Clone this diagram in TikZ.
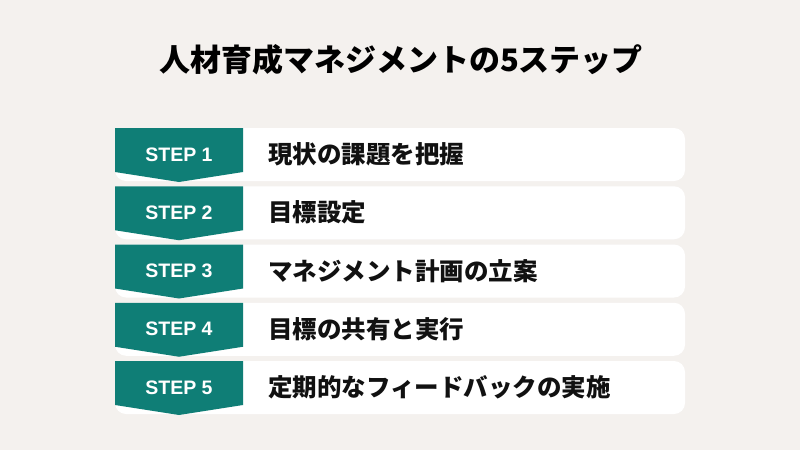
\documentclass[tikz,border=0pt]{standalone}
\usepackage{fontspec}
\setmainfont{Liberation Sans}
\newfontfamily\jp{Noto Sans CJK JP}
\definecolor{bgc}{HTML}{F4F1EE}
\definecolor{tealc}{HTML}{0F7E76}
\definecolor{inkc}{HTML}{111111}
\tikzset{
  barbox/.style={fill=white, rounded corners=11pt},
  stepshape/.style={fill=tealc},
  steplabel/.style={text=white, font=\fontsize{19.5}{19.5}\selectfont\bfseries, inner sep=0pt, anchor=center},
  steptext/.style={text=inkc, font=\jp\fontsize{24.5}{24.5}\selectfont\bfseries, inner sep=0pt, anchor=west},
}
\begin{document}
\begin{tikzpicture}[x=1pt,y=-1pt]
  \fill[bgc] (0,0) rectangle (800,450);
  \useasboundingbox (0,0) rectangle (800,450);
  \node[text=black, font=\jp\fontsize{31}{31}\selectfont\bfseries, inner sep=0pt] (title) at (401,60) {人材育成マネジメントの5ステップ};
  \foreach \i/\t in {1/現状の課題を把握, 2/目標設定, 3/マネジメント計画の立案, 4/目標の共有と実行, 5/定期的なフィードバックの実施}{
    \pgfmathsetmacro{\yy}{128+58.25*(\i-1)}
    \fill[barbox] (115,\yy) rectangle (685,\yy+53);
    \fill[stepshape] (115,\yy) -- (243,\yy) -- (243,\yy+44) -- (179,\yy+54) -- (115,\yy+44) -- cycle;
    \node[steplabel] (label\i) at (179,\yy+26.5) {STEP \i};
    \node[steptext] (text\i) at (268,\yy+26.5) {\t};
  }
\end{tikzpicture}
\end{document}
